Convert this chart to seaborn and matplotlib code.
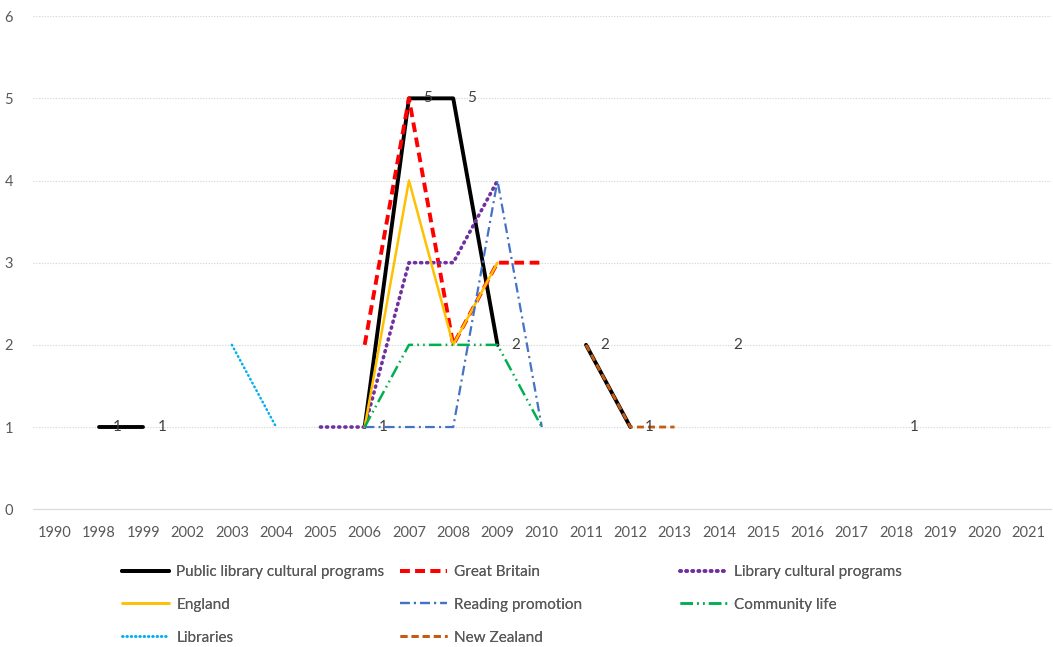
import numpy as np
import pandas as pd
import matplotlib
matplotlib.use("Agg")
import matplotlib.pyplot as plt
import seaborn as sns

# categories (x axis) and series values, NaN = no value that year
years = ['1990', '1998', '1999', '2002', '2003', '2004', '2005', '2006', '2007', '2008', '2009',
         '2010', '2011', '2012', '2013', '2014', '2015', '2016', '2017', '2018', '2019', '2020', '2021']
n = np.nan
public_lib = [n, 1, 1, n, n, n, n, 1, 5, 5, 2, n, 2, 1, n, 2, n, n, n, 1, n, n, n]
great_britain = [n, n, n, n, n, n, n, 2, 5, 2, 3, 3, n, n, n, n, n, n, n, n, n, n, n]
lib_cultural = [n, n, n, n, n, n, 1, 1, 3, 3, 4, n, n, n, n, n, n, n, n, n, n, n, n]
england = [n, n, n, n, n, n, n, 1, 4, 2, 3, n, n, n, n, n, n, n, n, n, n, n, n]
reading = [n, n, n, n, n, n, n, 1, 1, 1, 4, 1, n, n, n, n, n, n, n, n, n, n, n]
community = [n, n, n, n, n, n, n, 1, 2, 2, 2, 1, n, n, n, n, n, n, n, n, n, n, n]
libraries = [n, n, n, n, 2, 1, n, n, n, n, n, n, n, n, n, n, n, n, n, n, n, n, n]
new_zealand = [n, n, n, n, n, n, n, n, n, n, n, n, 2, 1, 1, n, n, n, n, n, n, n, n]

# name, values, color, width, dash pattern (points)
series = [
    ("Public library cultural programs", public_lib, "#000000", 2.8, None),
    ("Great Britain", great_britain, "#FF0000", 2.8, (7, 4)),
    ("Library cultural programs", lib_cultural, "#7030A0", 2.6, (0.8, 3.6)),
    ("England", england, "#FFC000", 1.8, None),
    ("Reading promotion", reading, "#4472C4", 1.6, (7, 3, 1.5, 3)),
    ("Community life", community, "#00B050", 1.8, (9, 3, 1.2, 3, 1.2, 3)),
    ("Libraries", libraries, "#00B0F0", 1.8, (0.5, 2.6)),
    ("New Zealand", new_zealand, "#C55A11", 2.0, (5, 3)),
]

sns.set_style("white")
plt.rcParams['font.family'] = ['Lato', 'DejaVu Sans']
plt.rcParams['lines.scale_dashes'] = False
TXT = "#595959"

fig = plt.figure(figsize=(10.53, 6.47), dpi=100)
ax = fig.add_axes([0.031, 0.213, 0.967, 0.762])

xpos = np.arange(len(years))
handles = {}
for name, vals, col, lw, dash in series:
    df = pd.DataFrame({"x": xpos, "y": vals})
    seg = df["y"].isna().cumsum()
    for _, part in df.dropna().groupby(seg[df["y"].notna()]):
        if len(part) < 2:
            continue
        sns.lineplot(data=part, x="x", y="y", ax=ax, color=col, linewidth=lw,
                     estimator=None, sort=False)
        line = ax.lines[-1]
        if dash is not None:
            line.set_dashes(dash)
        if name in ("Libraries", "Library cultural programs"):
            line.set_dash_capstyle("round")
        handles[name] = line

# data labels on the black series
for i, v in enumerate(public_lib):
    if not np.isnan(v):
        ax.text(i + 0.32, v, str(int(v)), ha="left", va="center", fontsize=11, color="#404040")

ax.set_xlim(-0.5, len(years) - 0.5)
ax.set_ylim(0, 6)
ax.set_xticks(xpos)
ax.set_xticklabels(years)
ax.set_yticks(range(0, 7))
ax.tick_params(axis="both", length=0, labelsize=10.5, labelcolor=TXT)
ax.tick_params(axis="x", pad=12)
ax.tick_params(axis="y", pad=14)
ax.set_xlabel("")
ax.set_ylabel("")
ax.grid(axis="y", color="#D9D9D9", linestyle=(0, (1, 1)), linewidth=0.8)
for s in ["top", "right", "left"]:
    ax.spines[s].set_visible(False)
ax.spines["bottom"].set_color("#D9D9D9")

# legend laid out in three fixed columns, like the Excel legend
columns = [
    (122, ["Public library cultural programs", "England", "Libraries"]),
    (400, ["Great Britain", "Reading promotion", "New Zealand"]),
    (680, ["Library cultural programs", "Community life"]),
]
W, H = 1053, 647
for xpx, names in columns:
    leg = fig.legend([handles[k] for k in names], names, loc="upper left",
                     bbox_to_anchor=(xpx / W, 1 - 565 / H), frameon=False, fontsize=11,
                     handlelength=3.1, handletextpad=0.45, labelspacing=1.23,
                     borderpad=0, borderaxespad=0, labelcolor=TXT)
    fig.add_artist(leg)

fig.savefig("out.png", dpi=100)
